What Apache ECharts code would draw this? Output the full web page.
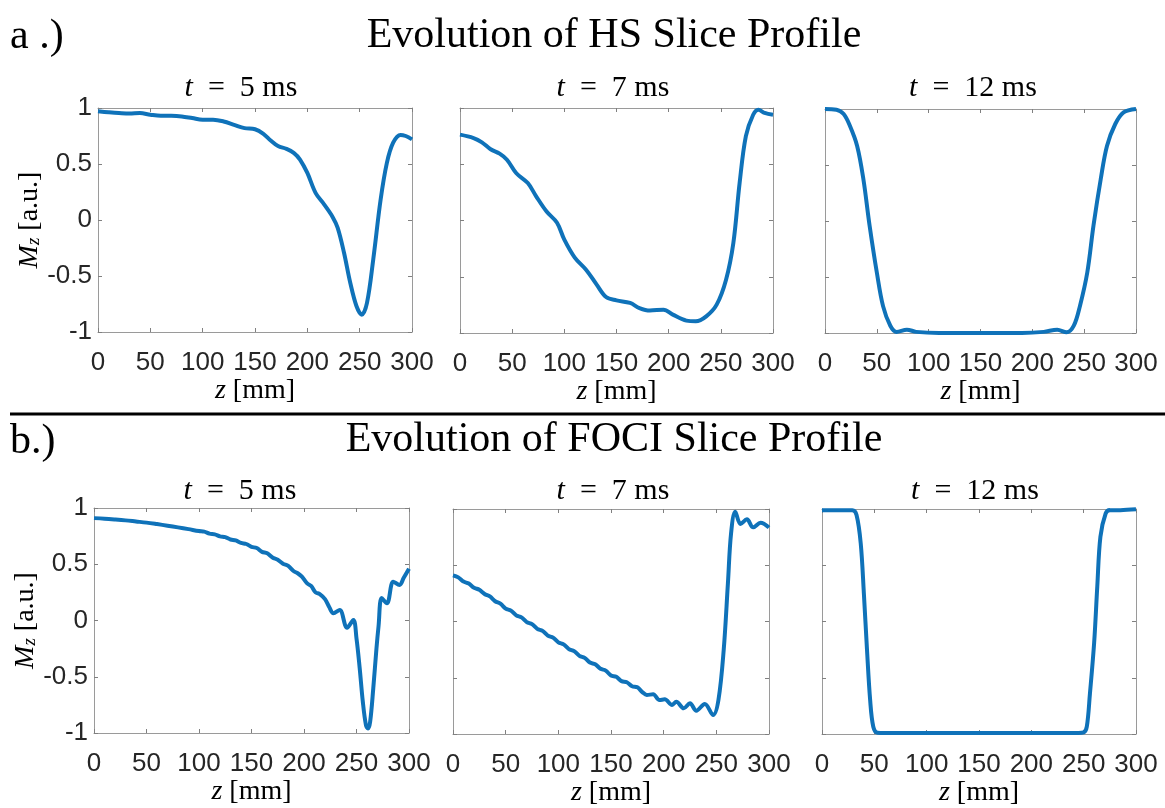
<!DOCTYPE html>
<html>
<head>
<meta charset="utf-8">
<script src="https://cdn.jsdelivr.net/npm/echarts@6/dist/echarts.min.js"></script>
<style>
  html, body { margin: 0; padding: 0; background: #fff; }
  #chart { width: 1165px; height: 808px; }
</style>
</head>
<body>
<div id="chart"></div>
<script>
// z [mm] / Mz values
const hs5Z = [0,10,20,30,40,50,60,70,80,90,100,110,120,130,140,150,158,165,172,180,187,193,200,208,216,224,229,235,241,247,252,257,263,270,276,282,289,294,300]
const hs5M = [0.97,0.962,0.955,0.95,0.955,0.94,0.93,0.93,0.925,0.91,0.895,0.895,0.88,0.85,0.82,0.81,0.77,0.71,0.66,0.635,0.60,0.54,0.42,0.24,0.14,0.03,-0.07,-0.29,-0.56,-0.77,-0.845,-0.74,-0.35,0.18,0.51,0.69,0.76,0.75,0.72]

const hs7Z = [0,13,21,29,38,45,54,65,73,83,93,100,110,121,131,140,150,163,172,182,195,204,217,226,236,246,255,262,268,274,281,286,292,300]
const hs7M = [0.763,0.733,0.695,0.636,0.594,0.54,0.42,0.333,0.215,0.08,-0.02,-0.17,-0.33,-0.44,-0.57,-0.68,-0.71,-0.733,-0.778,-0.80,-0.793,-0.837,-0.89,-0.896,-0.852,-0.748,-0.526,-0.2,0.333,0.75,0.94,0.985,0.956,0.94]

const hs12Z = [0,11,18,24,31,37,43,50,56,63,69,79,88,110,150,190,211,224,233,240,246,253,259,266,272,280,288,300]
const hs12M = [1.0,0.994,0.955,0.85,0.67,0.375,-0.04,-0.46,-0.76,-0.935,-0.99,-0.97,-0.99,-1.0,-1.0,-1.0,-0.99,-0.97,-0.994,-0.935,-0.756,-0.46,-0.04,0.375,0.67,0.866,0.97,1.0]

const foci5Z = [0,10,20,30,40,50,60,70,80,90,100,105,110,115,120,125,130,135,140,145,150,155,160,165,170,175,180,185,190,194,198,203,207,211,215,220,224,228,234,241,247,250,253,256,259,261,263,266,269,271,274,279,285,291,295,300]
const foci5M = [0.91,0.905,0.898,0.89,0.88,0.87,0.857,0.843,0.828,0.812,0.795,0.79,0.772,0.766,0.748,0.741,0.72,0.712,0.69,0.68,0.655,0.644,0.61,0.597,0.56,0.54,0.505,0.485,0.44,0.42,0.39,0.33,0.305,0.25,0.235,0.19,0.12,0.064,0.093,-0.064,0.004,-0.16,-0.42,-0.72,-0.93,-0.96,-0.9,-0.6,-0.25,-0.05,0.2,0.153,0.345,0.316,0.38,0.46]

const foci7Z = [0,5,10,15,20,25,30,35,40,45,50,55,60,65,70,75,80,85,90,95,100,105,110,115,120,125,130,135,140,145,150,155,160,165,170,175,180,184,190,196,201,208,212,219,225,231,239,247,252,257,261,264,268,273,279,285,292,300]
const foci7M = [0.41,0.392,0.355,0.337,0.30,0.282,0.245,0.223,0.18,0.158,0.115,0.097,0.055,0.037,-0.005,-0.023,-0.065,-0.083,-0.125,-0.143,-0.185,-0.203,-0.245,-0.263,-0.305,-0.323,-0.365,-0.38,-0.42,-0.437,-0.48,-0.492,-0.53,-0.54,-0.575,-0.585,-0.63,-0.653,-0.647,-0.698,-0.692,-0.742,-0.713,-0.772,-0.727,-0.793,-0.733,-0.831,-0.698,-0.253,0.34,0.784,0.976,0.867,0.908,0.837,0.878,0.835]

const foci12Z = [0,15,29,33,37,40,43,46,49,53,60,100,150,200,245,250,253,256,260,263,266,271,275,285,300]
const foci12M = [0.99,0.99,0.99,0.947,0.695,0.25,-0.253,-0.698,-0.935,-0.988,-0.99,-0.99,-0.99,-0.99,-0.99,-0.985,-0.935,-0.64,-0.19,0.31,0.754,0.96,0.99,0.99,0.997]

const times = ['5', '7', '12']
const zMin = 0, zMax = 300, zStep = 50
const mMin = -1, mMax = 1, mStep = 0.5

const SERIF = 'Liberation Serif'
const SANS = 'Liberation Sans'
const BLUE = '#0f72b9'
const AXIS = '#9a9a9a'

const panels = [
    { grid: { left: 98, top: 108, width: 314, height: 224 }, z: hs5Z, m: hs5M, t: times[0], tx: 241, ty: 88, yLab: true },
    { grid: { left: 460, top: 108, width: 313, height: 225 }, z: hs7Z, m: hs7M, t: times[1], tx: 613, ty: 88 },
    { grid: { left: 825, top: 109, width: 311, height: 224 }, z: hs12Z, m: hs12M, t: times[2], tx: 973, ty: 88 },
    { grid: { left: 94, top: 508, width: 315, height: 225 }, z: foci5Z, m: foci5M, t: times[0], tx: 240, ty: 491, yLab: true },
    { grid: { left: 453, top: 509, width: 316, height: 225 }, z: foci7Z, m: foci7M, t: times[1], tx: 613, ty: 491 },
    { grid: { left: 822, top: 509, width: 314, height: 225 }, z: foci12Z, m: foci12M, t: times[2], tx: 975, ty: 491 }
]

const tick = { show: true, inside: true, length: 4, lineStyle: { color: '#808080' } }
const line = { show: true, onZero: false, lineStyle: { color: AXIS, width: 1 } }

const grid = [], xAxis = [], yAxis = [], series = [], graphic = []

panels.forEach((p, i) => {
    grid.push(Object.assign({ containLabel: false }, p.grid))
    // bottom / left axes carry the labels, top / right only the box and ticks
    xAxis.push({
        type: 'value', gridIndex: i, min: zMin, max: zMax, interval: zStep, position: 'bottom',
        axisLine: line, axisTick: tick, splitLine: { show: false },
        axisLabel: { fontFamily: SANS, fontSize: 26, color: '#262626', margin: 18 },
        name: '{it|z} [mm]', nameLocation: 'middle', nameGap: 40,
        nameTextStyle: { fontFamily: SERIF, fontSize: 28, color: '#000',
            rich: { it: { fontFamily: SERIF, fontSize: 28, fontStyle: 'italic', color: '#000' } } }
    })
    xAxis.push({
        type: 'value', gridIndex: i, min: zMin, max: zMax, interval: zStep, position: 'top',
        axisLine: line, axisTick: tick, axisLabel: { show: false }, splitLine: { show: false }
    })
    const ya = {
        type: 'value', gridIndex: i, min: mMin, max: mMax, interval: mStep, position: 'left',
        axisLine: line, axisTick: tick, splitLine: { show: false },
        axisLabel: { show: !!p.yLab, fontFamily: SANS, fontSize: 26, color: '#262626', margin: 6 }
    }
    if (p.yLab) {
        ya.name = '{it|M}{sub|z} [a.u.]'
        ya.nameLocation = 'middle'
        ya.nameGap = 54
        ya.nameTextStyle = { fontFamily: SERIF, fontSize: 28, color: '#000',
            rich: {
                it: { fontFamily: SERIF, fontSize: 28, fontStyle: 'italic', color: '#000' },
                sub: { fontFamily: SERIF, fontSize: 19, fontStyle: 'italic', color: '#000', verticalAlign: 'bottom' }
            } }
    }
    yAxis.push(ya)
    yAxis.push({
        type: 'value', gridIndex: i, min: mMin, max: mMax, interval: mStep, position: 'right',
        axisLine: line, axisTick: tick, axisLabel: { show: false }, splitLine: { show: false }
    })
    series.push({
        type: 'line', xAxisIndex: i * 2, yAxisIndex: i * 2,
        data: p.z.map((z, k) => [z, p.m[k]]),
        showSymbol: false, smooth: 0.35, clip: false,
        lineStyle: { color: BLUE, width: 4 }
    })
    graphic.push({
        type: 'text', x: p.tx, y: p.ty,
        style: {
            text: '{it|t}  =  ' + p.t + ' ms',
            fontFamily: SERIF, fontSize: 30, fill: '#000',
            textAlign: 'center', textVerticalAlign: 'middle',
            rich: { it: { fontFamily: SERIF, fontSize: 30, fontStyle: 'italic', fill: '#000' } }
        }
    })
})

// headings and separator
graphic.push(
    { type: 'text', x: 10, y: 37, style: { text: 'a .)', fontFamily: SERIF, fontSize: 42, fill: '#000', textAlign: 'left', textVerticalAlign: 'middle' } },
    { type: 'text', x: 614, y: 36, style: { text: 'Evolution of HS Slice Profile', fontFamily: SERIF, fontSize: 42, fill: '#000', textAlign: 'center', textVerticalAlign: 'middle' } },
    { type: 'line', shape: { x1: 10, y1: 414, x2: 1165, y2: 414 }, style: { stroke: '#000', lineWidth: 3 } },
    { type: 'text', x: 10, y: 442, style: { text: 'b.)', fontFamily: SERIF, fontSize: 42, fill: '#000', textAlign: 'left', textVerticalAlign: 'middle' } },
    { type: 'text', x: 614, y: 440, style: { text: 'Evolution of FOCI Slice Profile', fontFamily: SERIF, fontSize: 42, fill: '#000', textAlign: 'center', textVerticalAlign: 'middle' } }
)

const myChart = echarts.init(document.getElementById('chart'))
myChart.setOption({
    backgroundColor: '#fff',
    animation: false,
    grid: grid,
    xAxis: xAxis,
    yAxis: yAxis,
    series: series,
    graphic: graphic
})
</script>
</body>
</html>
